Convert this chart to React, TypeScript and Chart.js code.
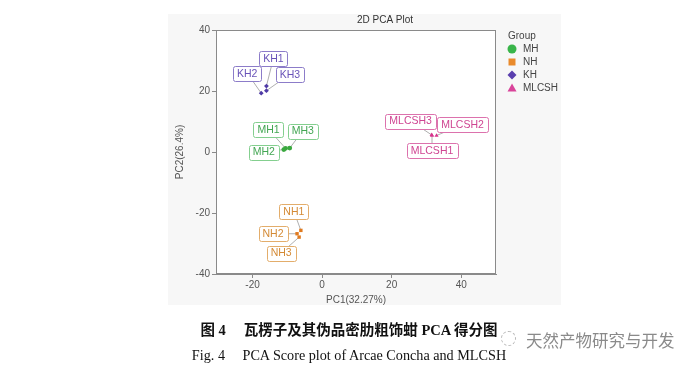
import React, { useEffect, useRef } from "react";
import { Chart, registerables } from "chart.js";
Chart.register(...registerables);

// ---------- data ----------
const groupNames = ["MH", "NH", "KH", "MLCSH"];
const mhNames = ["MH1", "MH2", "MH3"];
const mhX = [-10.5, -11.0, -9.3];
const mhY = [1.2, 0.8, 1.3];
const nhNames = ["NH1", "NH2", "NH3"];
const nhX = [-6.1, -7.2, -6.6];
const nhY = [-25.7, -26.8, -27.9];
const khNames = ["KH1", "KH2", "KH3"];
const khX = [-16.0, -17.5, -16.0];
const khY = [21.6, 19.3, 20.1];
const mlNames = ["MLCSH1", "MLCSH2", "MLCSH3"];
const mlX = [31.6, 32.9, 31.5];
const mlY = [5.4, 5.4, 5.6];
const xTickValues = [-20, 0, 20, 40];
const yTickValues = [-40, -20, 0, 20, 40];

// ---------- styles ----------
const FONT = "'Liberation Sans', Arial, Helvetica, sans-serif";
const styles: Record<string, any> = {
  MH: { point: "#3aa83f", border: "#84cf8f", text: "#43a653", shape: "circle" },
  NH: { point: "#e07a1f", border: "#e3ad6b", text: "#d48a35", shape: "rect" },
  KH: { point: "#4f3aa6", border: "#8c7cc9", text: "#6953b8", shape: "rectRot" },
  MLCSH: { point: "#d8338c", border: "#dc72ad", text: "#cf4592", shape: "triangle" },
};
const legendColors: Record<string, string> = {
  MH: "#39b54a",
  NH: "#e98a2c",
  KH: "#5a3fae",
  MLCSH: "#d9449a",
};
// label box centre offsets (pixels) relative to the point
const labelOffsets: Record<string, [number, number]> = {
  KH1: [7, -28], KH2: [-14, -20], KH3: [23.5, -16.5],
  MH1: [-17, -19], MH2: [-20, 2.5], MH3: [13, -17],
  NH1: [-7, -19], NH2: [-24, 0], NH3: [-18, 16],
  MLCSH1: [0, 15], MLCSH2: [26, -11], MLCSH3: [-21, -14],
};

const seriesList = [
  { g: "MH", names: mhNames, xs: mhX, ys: mhY },
  { g: "NH", names: nhNames, xs: nhX, ys: nhY },
  { g: "KH", names: khNames, xs: khX, ys: khY },
  { g: "MLCSH", names: mlNames, xs: mlX, ys: mlY },
];

const panelPlugin = {
  id: "panel",
  beforeDraw(chart: any) {
    const ctx = chart.ctx;
    const a = chart.chartArea;
    ctx.save();
    ctx.fillStyle = "#ffffff";
    ctx.fillRect(0, 0, chart.width, chart.height);
    ctx.fillStyle = "#f7f7f7";
    ctx.fillRect(168, 14, 393, 291);
    ctx.fillStyle = "#ffffff";
    ctx.fillRect(a.left, a.top, a.right - a.left, a.bottom - a.top);
    ctx.restore();
  },
  afterDraw(chart: any) {
    const ctx = chart.ctx;
    const a = chart.chartArea;
    ctx.save();
    ctx.strokeStyle = "#8a8a8a";
    ctx.lineWidth = 1;
    ctx.strokeRect(Math.round(a.left) + 0.5, Math.round(a.top) + 0.5, Math.round(a.right - a.left) - 1, Math.round(a.bottom - a.top) - 1);
    // title
    ctx.fillStyle = "#333";
    ctx.font = `10px ${FONT}`;
    ctx.textAlign = "center";
    ctx.textBaseline = "middle";
    ctx.fillText("2D PCA Plot", 385, 20);
    // legend
    ctx.textAlign = "left";
    ctx.fillStyle = "#444";
    ctx.fillText("Group", 508, 36);
    groupNames.forEach((g, i) => {
      const cy = 49 + i * 13;
      const cx = 512;
      ctx.fillStyle = legendColors[g];
      ctx.beginPath();
      if (g === "MH") {
        ctx.arc(cx, cy, 4.5, 0, Math.PI * 2);
      } else if (g === "NH") {
        ctx.rect(cx - 3.5, cy - 3.5, 7, 7);
      } else if (g === "KH") {
        ctx.moveTo(cx, cy - 4.5);
        ctx.lineTo(cx + 4.5, cy);
        ctx.lineTo(cx, cy + 4.5);
        ctx.lineTo(cx - 4.5, cy);
        ctx.closePath();
      } else {
        ctx.moveTo(cx, cy - 4.5);
        ctx.lineTo(cx + 4.5, cy + 3.5);
        ctx.lineTo(cx - 4.5, cy + 3.5);
        ctx.closePath();
      }
      ctx.fill();
      ctx.fillStyle = "#444";
      ctx.fillText(g, 523, cy + 0.5);
    });
    ctx.restore();
  },
};

const labelPlugin = {
  id: "pointLabels",
  beforeDatasetsDraw(chart: any) {
    const ctx = chart.ctx;
    ctx.save();
    ctx.strokeStyle = "#9a9a9a";
    ctx.lineWidth = 0.8;
    chart.data.datasets.forEach((ds: any, di: number) => {
      const meta = chart.getDatasetMeta(di);
      ds.names.forEach((n: string, i: number) => {
        const el = meta.data[i];
        const off = labelOffsets[n];
        ctx.beginPath();
        ctx.moveTo(el.x, el.y);
        ctx.lineTo(el.x + off[0], el.y + off[1]);
        ctx.stroke();
      });
    });
    ctx.restore();
  },
  afterDatasetsDraw(chart: any) {
    const ctx = chart.ctx;
    ctx.save();
    ctx.font = `10.5px ${FONT}`;
    ctx.textAlign = "center";
    ctx.textBaseline = "middle";
    chart.data.datasets.forEach((ds: any, di: number) => {
      const meta = chart.getDatasetMeta(di);
      const st = styles[ds.group];
      ds.names.forEach((n: string, i: number) => {
        const el = meta.data[i];
        const off = labelOffsets[n];
        const cx = el.x + off[0];
        const cy = el.y + off[1];
        const w = ctx.measureText(n).width + 8;
        const h = 14.5;
        ctx.beginPath();
        (ctx as any).roundRect(Math.round(cx - w / 2) + 0.5, Math.round(cy - h / 2) + 0.5, Math.round(w), Math.round(h), 2);
        ctx.fillStyle = "#ffffff";
        ctx.fill();
        ctx.strokeStyle = st.border;
        ctx.lineWidth = 1;
        ctx.stroke();
        ctx.fillStyle = st.text;
        ctx.fillText(n, cx, cy + 0.5);
      });
    });
    ctx.restore();
  },
};

function ChartView() {
  const ref = useRef<HTMLCanvasElement | null>(null);
  useEffect(() => {
    if (!ref.current) return;
    const datasets = seriesList.map((s) => ({
      label: s.g,
      group: s.g,
      names: s.names,
      data: s.xs.map((x, i) => ({ x, y: s.ys[i] })),
      pointStyle: styles[s.g].shape,
      pointRadius: 2.4,
      pointBackgroundColor: styles[s.g].point,
      pointBorderColor: styles[s.g].point,
      pointBorderWidth: 0,
      showLine: false,
    }));
    const axisCommon = {
      type: "linear" as const,
      grid: { drawOnChartArea: false, drawTicks: true, tickLength: 4, color: "#8a8a8a" },
      border: { display: true, color: "#8a8a8a" },
    };
    const chart = new Chart(ref.current, {
      type: "scatter",
      data: { datasets: datasets as any },
      plugins: [panelPlugin, labelPlugin],
      options: {
        responsive: false,
        animation: false,
        events: [],
        layout: { padding: { left: 170, right: 204, top: 30, bottom: 60 } },
        plugins: { legend: { display: false }, tooltip: { enabled: false }, title: { display: false } },
        scales: {
          x: {
            ...axisCommon,
            min: -30.5,
            max: 50,
            afterFit: (s: any) => { s.height = 36; },
            afterBuildTicks: (s: any) => { s.ticks = xTickValues.map((v) => ({ value: v })); },
            ticks: { font: { size: 10, family: FONT }, color: "#555", padding: 1, maxRotation: 0 },
            title: { display: true, text: "PC1(32.27%)", font: { size: 10, family: FONT }, color: "#555", padding: { top: 4, bottom: 4 } },
          },
          y: {
            ...axisCommon,
            min: -40,
            max: 40,
            afterFit: (s: any) => { s.width = 46; },
            afterBuildTicks: (s: any) => { s.ticks = yTickValues.map((v) => ({ value: v })); },
            ticks: { font: { size: 10, family: FONT }, color: "#555", padding: 2 },
            title: { display: true, text: "PC2(26.4%)", font: { size: 10, family: FONT }, color: "#555", padding: { top: 4, bottom: 4 } },
          },
        },
      } as any,
    });
    return () => chart.destroy();
  }, []);
  return <canvas ref={ref} width={700} height={370} style={{ position: "absolute", left: 0, top: 0, width: 700, height: 370 }} />;
}

export default function App() {
  return (
    <div style={{ position: "absolute", left: 0, top: 0, width: 700, height: 370, overflow: "hidden", background: "#fff" }}>
      <ChartView />
      <div
        style={{
          position: "absolute", left: 0, top: 321, width: 698, textAlign: "center",
          fontFamily: "'Liberation Serif', 'Noto Sans CJK SC', serif", fontWeight: "bold",
          fontSize: 14.5, lineHeight: "18px", color: "#111", whiteSpace: "pre",
        }}
      >
        {"图 4　 瓦楞子及其伪品密肋粗饰蚶 PCA 得分图"}
      </div>
      <div
        style={{
          position: "absolute", left: 0, top: 345, width: 698, textAlign: "center",
          fontFamily: "'Liberation Serif', 'Times New Roman', serif",
          fontSize: 14.2, lineHeight: "20px", color: "#111", whiteSpace: "pre",
        }}
      >
        {"Fig. 4　 PCA Score plot of Arcae Concha and MLCSH"}
      </div>
      <div
        style={{
          position: "absolute", left: 501, top: 331, width: 15, height: 15,
          borderRadius: "50%", border: "1px dashed #b8b8b8", boxSizing: "border-box",
        }}
      />
      <div
        style={{
          position: "absolute", left: 526, top: 329, fontFamily: "'Noto Sans CJK SC', sans-serif",
          fontSize: 16.5, lineHeight: "22px", color: "#8a8a8a", whiteSpace: "pre",
          textShadow: "0 0 1px #fff",
        }}
      >
        {"天然产物研究与开发"}
      </div>
    </div>
  );
}
